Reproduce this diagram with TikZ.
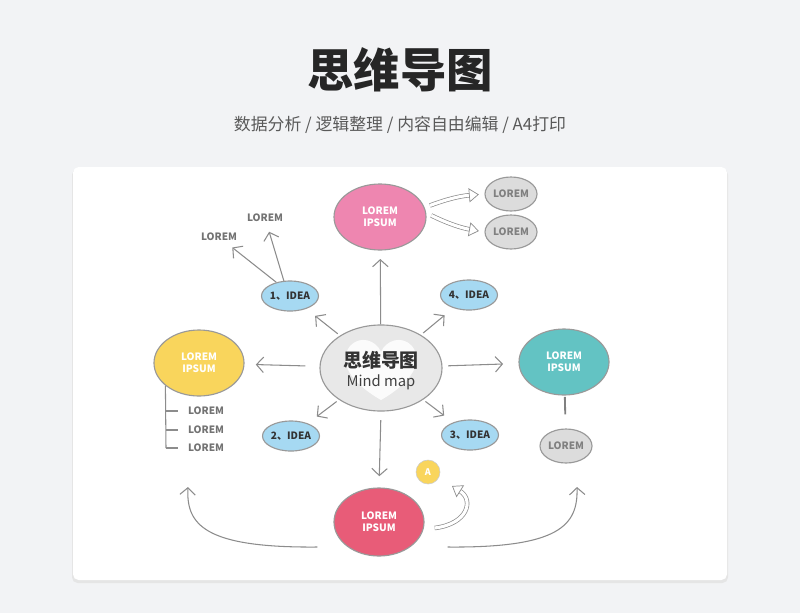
\documentclass[tikz,border=0pt]{standalone}
\usepackage{fontspec}
\setmainfont{Noto Sans CJK SC}
\usetikzlibrary{shapes.geometric, arrows.meta}

\definecolor{fondo}{HTML}{F2F3F5}
\definecolor{rosa}{HTML}{EE86B0}
\definecolor{amarillo}{HTML}{F9D55C}
\definecolor{turquesa}{HTML}{63C3C3}
\definecolor{rojo}{HTML}{E85C78}
\definecolor{celeste}{HTML}{A6D9F2}
\definecolor{gris}{HTML}{DCDCDC}
\definecolor{linea}{HTML}{8C8C8C}

\begin{document}
\begin{tikzpicture}[
        x=0.025cm, y=-0.025cm,
        burbuja/.style={ellipse, draw=black!40, line width=0.8pt, inner sep=0pt, align=center,
            text=white, font=\bfseries\fontsize{7.2}{8.8}\selectfont},
        grande/.style={burbuja, minimum width=2.25cm, minimum height=1.65cm},
        idea/.style={burbuja, fill=celeste, text=black!80, minimum width=1.25cm, minimum height=0.75cm},
        hoja/.style={burbuja, fill=gris, text=black!50, minimum width=1.3cm, minimum height=0.85cm},
        texto/.style={inner sep=2pt, text=black!55, font=\bfseries\fontsize{7.2}{8.8}\selectfont},
        flecha/.style={draw=linea, line width=0.75pt, -{Straight Barb[length=5pt, width=11pt]}},
        hueca/.style={draw=black!45, line width=0.5pt, double=white, double distance=2.2pt,
            -{Triangle[open, length=7pt, width=10pt]}},
        rama/.style={draw=linea, line width=0.75pt}
    ]
        % Fondo y tarjeta
        \useasboundingbox (0,0) rectangle (800,613);
        \fill[fondo] (0,0) rectangle (800,613);
        \fill[black!10, rounded corners=4pt] (72,169) rectangle (728,583);
        \fill[white, rounded corners=4pt] (73,167) rectangle (727,580);

        % Títulos
        \node (titulo) at (400,70) {\bfseries\fontsize{33}{36}\selectfont\color{black!85}思维导图};
        \node (subtitulo) at (400,125) {\fontsize{12}{14}\selectfont\color{black!65}数据分析 / 逻辑整理 / 内容自由编辑 / A4打印};

        % Nodo central con corazón
        \node[burbuja, fill=black!9, minimum width=3.05cm, minimum height=2.15cm] (centro) at (381,368) {};
        \fill[white, opacity=0.85] (381,400) .. controls (350,382) and (338,362) .. (350,346)
            .. controls (360,335) and (376,340) .. (381,352) .. controls (386,340) and (402,335) .. (412,346)
            .. controls (424,362) and (412,382) .. (381,400);
        \node[text=black!80, font=\bfseries\fontsize{13.5}{15}\selectfont] (nombre) at (381,360) {思维导图};
        \node[text=black!75, font=\fontsize{10.5}{12}\selectfont] (mapa) at (381,382) {Mind map};

        % Ramas principales
        \node[grande, fill=rosa, minimum width=2.3cm] (rosa) at (380,217) {LOREM\\IPSUM};
        \node[grande, fill=amarillo] (amarillo) at (199,363) {LOREM\\IPSUM};
        \node[grande, fill=turquesa] (turquesa) at (564,362) {LOREM\\IPSUM};
        \node[grande, fill=rojo, minimum height=1.7cm] (rojo) at (379,522) {LOREM\\IPSUM};

        % Ideas
        \node[idea] (idea1) at (290,296) {1、IDEA};
        \node[idea] (idea4) at (469,295) {4、IDEA};
        \node[idea] (idea2) at (291,436) {2、IDEA};
        \node[idea] (idea3) at (470,435) {3、IDEA};

        % Hojas grises
        \node[hoja] (hojaA) at (511,194) {LOREM};
        \node[hoja] (hojaB) at (511,232) {LOREM};
        \node[hoja] (hojaC) at (566,446) {LOREM};
        \node[circle, fill=amarillo, draw=black!20, minimum size=0.6cm, inner sep=0pt,
            text=white, font=\bfseries\fontsize{6.5}{7}\selectfont] (letraA) at (428,472) {A};

        % Textos sueltos
        \node[texto] (loremA) at (219,237) {LOREM};
        \node[texto] (loremB) at (265,218) {LOREM};

        % Flechas desde el centro
        \draw[flecha, shorten >=6pt] (centro) -- (rosa);
        \draw[flecha, shorten <=10pt, shorten >=8pt] (centro) -- (amarillo);
        \draw[flecha, shorten <=4pt, shorten >=11pt] (centro) -- (turquesa);
        \draw[flecha, shorten <=6pt, shorten >=8pt] (centro.270) -- (rojo.90);
        \draw[flecha, shorten <=2pt, shorten >=8pt] (centro) -- (idea1);
        \draw[flecha, shorten <=2pt, shorten >=8pt] (centro) -- (idea4);
        \draw[flecha, shorten <=2pt, shorten >=8pt] (centro) -- (idea2);
        \draw[flecha, shorten <=2pt, shorten >=8pt] (centro) -- (idea3);

        % Flechas de la idea 1
        \draw[flecha, shorten >=4pt] (idea1.135) -- (loremA);
        \draw[flecha, shorten >=5pt] (idea1.112) -- (loremB);

        % Flechas huecas
        \draw[hueca, shorten <=4pt, shorten >=4pt] (rosa.12) to[bend left=8] (hojaA.west);
        \draw[hueca, shorten <=4pt, shorten >=4pt] (rosa.5) to[bend right=8] (hojaB.west);
        \draw[hueca] ([shift={(10,6)}]rojo.east) .. controls (468,524) and (474,500) .. (452,486);

        % Lista bajo la rama amarilla
        \draw[rama] (amarillo.214) -- (166,448);
        \foreach \y/\n in {411/lista1, 430/lista2, 448/lista3} {
            \node[texto] (\n) at (206,\y) {LOREM};
            \draw[rama] (166,\y) -- ++(12,0);
        }

        % Unión turquesa con hoja
        \draw[draw=black!50, line width=1.3pt, shorten <=1pt, shorten >=10pt] (turquesa) -- (hojaC);

        % Curvas inferiores
        \coordinate (finIzq) at (188,487);
        \coordinate (finDer) at (577,487);
        \draw[flecha] ([shift={(-16,25)}]rojo.west) .. controls (205,548) and (186,525) .. (finIzq);
        \draw[flecha] ([shift={(23,25)}]rojo.east) .. controls (560,548) and (578,525) .. (finDer);
\end{tikzpicture}
\end{document}
